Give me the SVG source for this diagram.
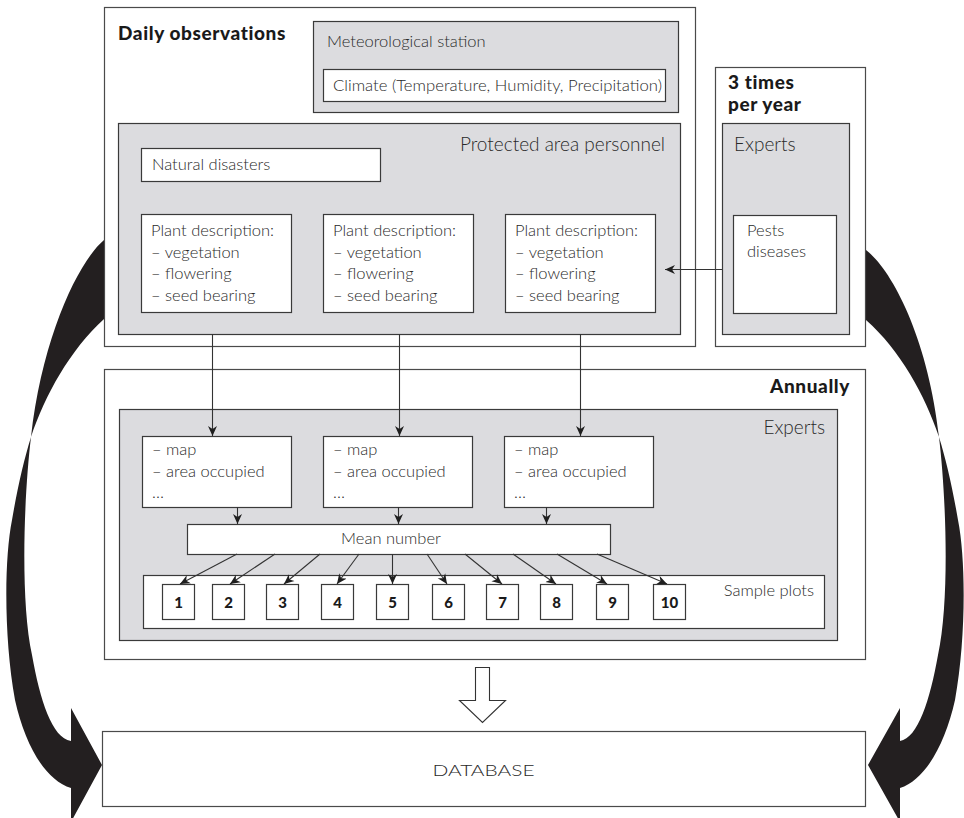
<svg xmlns="http://www.w3.org/2000/svg" width="964" height="818" viewBox="0 0 964 818">
  <style>
    .frame { fill: #ffffff; stroke: #4a4a4a; stroke-width: 1.2; }
    .panel { fill: #dcdcdf; stroke: #3a3a3a; stroke-width: 1.2; }
    .card { fill: #ffffff; stroke: #3a3a3a; stroke-width: 1.2; }
    .t { font-family: Lato, "Open Sans", "Liberation Sans", sans-serif; font-weight: 300; font-size: 16.5px; fill: #2a2a2a; }
    .tl { font-family: Lato, "Open Sans", "Liberation Sans", sans-serif; font-weight: 300; font-size: 19px; fill: #2a2a2a; }
    .h { font-family: Lato, "Liberation Sans", sans-serif; font-weight: 900; font-size: 19px; letter-spacing: 0.6px; fill: #1a1a1a; }
    .n { font-family: Lato, "Liberation Sans", sans-serif; font-weight: 900; font-size: 15px; fill: #1a1a1a; text-anchor: middle; }
    .link { fill: none; stroke: #333333; stroke-width: 1.1; marker-end: url(#tip); }
    .sweep { fill: #231f20; stroke: none; }
  </style>
  <defs>
    <marker id="tip" markerUnits="userSpaceOnUse" markerWidth="12" markerHeight="10" viewBox="-10 -5 12 10" refX="0" refY="0" orient="auto">
      <path d="M0,0 L-10,-4.5 L-7,0 L-10,4.5 Z" fill="#1f1f1f"/>
    </marker>
  </defs>

  <rect width="964" height="818" fill="#ffffff"/>

  <!-- large black sweeps feeding the database -->
  <g id="sweeps">
    <path class="sweep" d="M104,240 C78,262 42,338 31,437 C24,495 20,600 32,655 C40,700 52,738 71,741 L71,708 L102,765 L71,822 L71,788 C45,780 25,745 15,700 C4,640 4,560 12,520 C18,485 24,460 31,437 C45,395 70,350 104,319 Z"/>
    <path class="sweep" d="M866,250 C892,270 928,338 939,437 C946,495 950,600 938,655 C930,700 918,738 900,741 L900,708 L868,765 L900,822 L900,788 C925,780 945,745 955,700 C966,640 966,560 958,520 C952,485 946,460 939,437 C925,395 900,350 866,320 Z"/>
  </g>

  <!-- daily observations -->
  <g id="daily">
    <rect class="frame" x="104.5" y="7.5" width="591" height="339"/>
    <text class="h" x="118" y="40">Daily observations</text>
  </g>

  <g id="meteo">
    <rect class="panel" x="313.5" y="21.5" width="365" height="91"/>
    <text class="t" x="327" y="47">Meteorological station</text>
  </g>
  <g id="climate">
    <rect class="card" x="323.5" y="69.5" width="342" height="32"/>
    <text class="t" x="333" y="91" textLength="329" lengthAdjust="spacingAndGlyphs">Climate (Temperature, Humidity, Precipitation)</text>
  </g>

  <g id="personnel">
    <rect class="panel" x="118.5" y="123.5" width="562" height="211"/>
    <text class="tl" x="665" y="151" text-anchor="end">Protected area personnel</text>
  </g>
  <g id="disasters">
    <rect class="card" x="141.5" y="148.5" width="239" height="33"/>
    <text class="t" x="152" y="170">Natural disasters</text>
  </g>

  <g id="plant1">
    <rect class="card" x="141.5" y="214.5" width="150" height="98"/>
    <text class="t" x="151" y="236">Plant description:</text>
    <text class="t" x="151" y="257.5">– vegetation</text>
    <text class="t" x="151" y="279">– flowering</text>
    <text class="t" x="151" y="300.5">– seed bearing</text>
  </g>
  <g id="plant2">
    <rect class="card" x="323.5" y="214.5" width="150" height="98"/>
    <text class="t" x="333" y="236">Plant description:</text>
    <text class="t" x="333" y="257.5">– vegetation</text>
    <text class="t" x="333" y="279">– flowering</text>
    <text class="t" x="333" y="300.5">– seed bearing</text>
  </g>
  <g id="plant3">
    <rect class="card" x="505.5" y="214.5" width="150" height="98"/>
    <text class="t" x="515" y="236">Plant description:</text>
    <text class="t" x="515" y="257.5">– vegetation</text>
    <text class="t" x="515" y="279">– flowering</text>
    <text class="t" x="515" y="300.5">– seed bearing</text>
  </g>

  <!-- three times per year -->
  <g id="thrice">
    <rect class="frame" x="715.5" y="67.5" width="150" height="279"/>
    <text class="h" x="728" y="89">3 times</text>
    <text class="h" x="728" y="111">per year</text>
  </g>
  <g id="experts-top">
    <rect class="panel" x="722.5" y="123.5" width="127" height="211"/>
    <text class="tl" x="734" y="151">Experts</text>
  </g>
  <g id="pests">
    <rect class="card" x="733.5" y="215.5" width="103" height="98"/>
    <text class="t" x="747" y="236">Pests</text>
    <text class="t" x="747" y="257">diseases</text>
  </g>

  <!-- annual survey -->
  <g id="annual">
    <rect class="frame" x="104.5" y="369.5" width="761" height="290"/>
    <text class="h" x="850" y="393" text-anchor="end">Annually</text>
  </g>
  <g id="experts-annual">
    <rect class="panel" x="119.5" y="409.5" width="718" height="231"/>
    <text class="tl" x="825" y="434" text-anchor="end">Experts</text>
  </g>

  <g id="map1">
    <rect class="card" x="142.5" y="436.5" width="149" height="71"/>
    <text class="t" x="152" y="455">– map</text>
    <text class="t" x="152" y="477">– area occupied</text>
    <text class="t" x="152" y="498">…</text>
  </g>
  <g id="map2">
    <rect class="card" x="323.5" y="436.5" width="149" height="71"/>
    <text class="t" x="333" y="455">– map</text>
    <text class="t" x="333" y="477">– area occupied</text>
    <text class="t" x="333" y="498">…</text>
  </g>
  <g id="map3">
    <rect class="card" x="504.5" y="436.5" width="149" height="71"/>
    <text class="t" x="514" y="455">– map</text>
    <text class="t" x="514" y="477">– area occupied</text>
    <text class="t" x="514" y="498">…</text>
  </g>

  <g id="mean">
    <rect class="card" x="187.5" y="524.5" width="423" height="30"/>
    <text class="t" x="391" y="544" text-anchor="middle">Mean number</text>
  </g>

  <g id="plots">
    <rect class="card" x="143.5" y="575.5" width="681" height="53"/>
    <text class="t" x="814" y="596" text-anchor="end">Sample plots</text>
  </g>
  <g id="plot1"><rect class="card" x="162.5" y="584.5" width="32" height="35"/><text class="n" x="178.5" y="607.5">1</text></g>
  <g id="plot2"><rect class="card" x="212.5" y="584.5" width="32" height="35"/><text class="n" x="228.5" y="607.5">2</text></g>
  <g id="plot3"><rect class="card" x="266.5" y="584.5" width="32" height="35"/><text class="n" x="282.5" y="607.5">3</text></g>
  <g id="plot4"><rect class="card" x="321.5" y="584.5" width="32" height="35"/><text class="n" x="337.5" y="607.5">4</text></g>
  <g id="plot5"><rect class="card" x="376.5" y="584.5" width="32" height="35"/><text class="n" x="392.5" y="607.5">5</text></g>
  <g id="plot6"><rect class="card" x="432.5" y="584.5" width="32" height="35"/><text class="n" x="448.5" y="607.5">6</text></g>
  <g id="plot7"><rect class="card" x="486.5" y="584.5" width="32" height="35"/><text class="n" x="502.5" y="607.5">7</text></g>
  <g id="plot8"><rect class="card" x="540.5" y="584.5" width="32" height="35"/><text class="n" x="556.5" y="607.5">8</text></g>
  <g id="plot9"><rect class="card" x="596.5" y="584.5" width="32" height="35"/><text class="n" x="612.5" y="607.5">9</text></g>
  <g id="plot10"><rect class="card" x="653.5" y="584.5" width="32" height="35"/><text class="n" x="669.5" y="607.5">10</text></g>

  <!-- connectors -->
  <g id="connectors">
    <line class="link" x1="722" y1="269.5" x2="665" y2="269.5"/>
    <line class="link" x1="212.5" y1="334" x2="212.5" y2="436"/>
    <line class="link" x1="399.5" y1="334" x2="399.5" y2="436"/>
    <line class="link" x1="580.5" y1="334" x2="580.5" y2="436"/>
    <line class="link" x1="237.5" y1="507" x2="237.5" y2="524"/>
    <line class="link" x1="398.5" y1="507" x2="398.5" y2="524"/>
    <line class="link" x1="546.5" y1="507" x2="546.5" y2="524"/>
    <line class="link" x1="237" y1="554" x2="180" y2="584"/>
    <line class="link" x1="275" y1="554" x2="230" y2="584"/>
    <line class="link" x1="320" y1="554" x2="284" y2="584"/>
    <line class="link" x1="359" y1="554" x2="337" y2="584"/>
    <line class="link" x1="392.5" y1="554" x2="392.5" y2="584"/>
    <line class="link" x1="427" y1="554" x2="447" y2="584"/>
    <line class="link" x1="465" y1="554" x2="502" y2="584"/>
    <line class="link" x1="513" y1="554" x2="556" y2="584"/>
    <line class="link" x1="557" y1="554" x2="607" y2="584"/>
    <line class="link" x1="597" y1="554" x2="667" y2="584"/>
    <!-- hollow arrow down to the database -->
    <path d="M475.5,667.5 L489.5,667.5 L489.5,700.5 L505.5,700.5 L482.5,722.5 L459.5,700.5 L475.5,700.5 Z" fill="#ffffff" stroke="#333333" stroke-width="1.1"/>
  </g>

  <g id="database">
    <rect class="frame" x="102.5" y="731.5" width="763" height="75"/>
    <text class="t" x="483.5" y="776" text-anchor="middle" font-size="22" textLength="102" lengthAdjust="spacingAndGlyphs">DATABASE</text>
  </g>
</svg>
